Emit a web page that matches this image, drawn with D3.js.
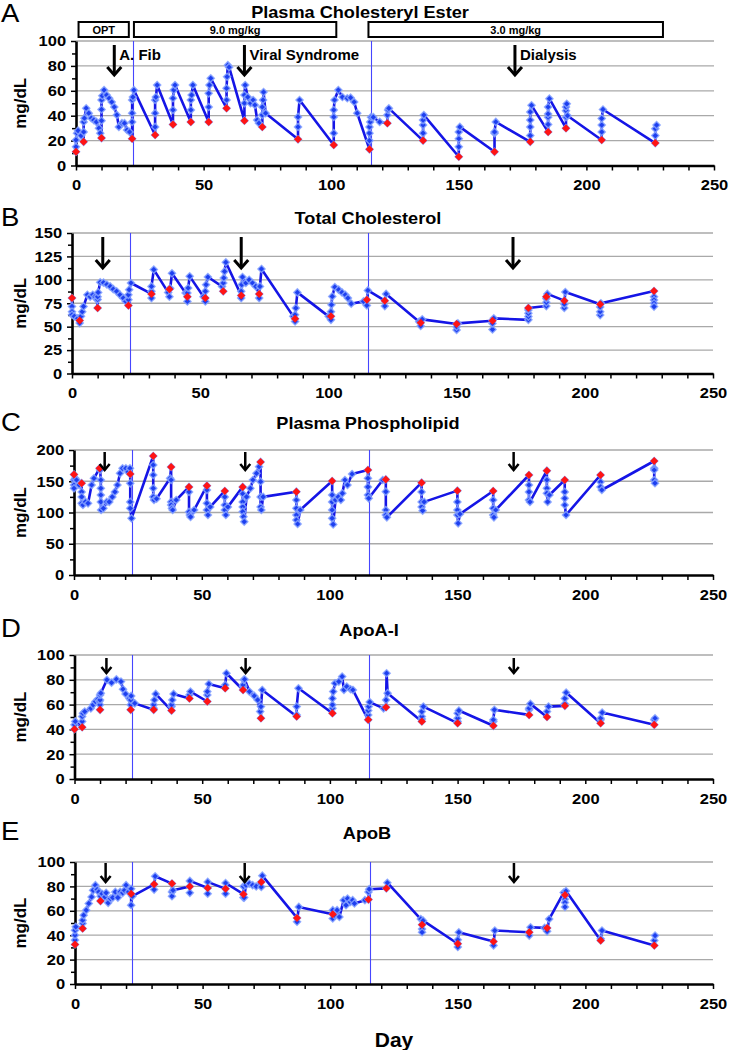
<!DOCTYPE html>
<html><head><meta charset="utf-8">
<script src="https://cdn.jsdelivr.net/npm/d3@7"></script>
<style>
body{margin:0;background:#fff}
svg{display:block}
text{font-family:"Liberation Sans",Arial,sans-serif}
</style>
</head><body>
<svg id="c" width="729" height="1050"></svg>
<script>
// ---------------- DATA ----------------
const infusionDays = [0,3,10,22,31,38,45,52,59,66,73,87,101,115,122,136,150,164,178,185,192,206,227];
const regimenChangeDays = [22.5,115.5];
const doseLabels = ["OPT","9.0 mg/kg","3.0 mg/kg"];
const doseStart = [1,22.7,114.6];
const doseEnd = [20.7,102,230];
const eventLabels = ["A. Fib","Viral Syndrome","Dialysis"];
const xTicks = [0,50,100,150,200,250];

const titles = ["Plasma Cholesteryl Ester","Total Cholesterol","Plasma Phospholipid","ApoA-I","ApoB"];
const letters = ["A","B","C","D","E"];
const yMaxes = [100,150,200,100,100];
const ySteps = [20,25,50,20,20];

const preA = [11,19,22,21.5,24.5,33,35,35,46,36,31,21,16.5,13,34,20,7,11,19,27,30,20.5,18];
const preB = [80.5,56.6,70,72.7,85,90,82,80.5,87.7,83.4,85,58.4,61,78.8,77.8,54.3,52.8,56.4,70,82,77.8,74,88];
const preC = [161,147,170.7,161.6,190.4,173,141,143,134.4,141,181,133.3,150.4,168,153,147.7,135,134.4,160,166.9,152,160,182.4];
const preD = [40.2,41.8,55.8,55.8,55.8,55.2,65,62.5,73.2,71.8,49,50.4,53,47.7,57.9,46.4,45,42.9,51.7,50,59,45,43.7];
const preE = [32.4,45.5,68,74,81.7,82.3,80,78.7,78,73.6,83.7,54.2,57.2,69.2,78.4,48.6,33,34.9,42.4,46,73,35.7,31.6];

const seriesA = [[0,11],[0,15],[0,20.5],[0.4,26],[0.8,28],[2,24],
[3,19],[3,27],[3,35],[3.3,38],[4,46],[5,42],[6,38],[7,36.5],[8,35],[9,30],[9.5,26],
[10,22],[10,36],[10,45],[10,52.6],[10.3,56],[11,60.6],[12,56.6],[13,54],[14,51],[15,47],[16,40.6],[16.8,31],[18,34],[19,34],[20,28.5],[21,27],
[22,21.5],[22,35],[22,42],[22,52.6],[22.3,55],[22.7,60.5],
[31,24.5],[31,31],[31,42],[31,52.6],[31.3,55],[31.8,64.6],
[38,33],[38,44.6],[38,54],[38.3,60.6],[38.8,64.6],
[45,35],[45,44.6],[45,52.6],[45.3,56.6],[45.8,64.6],
[52,35],[52,47],[52,58],[52.3,64.6],[52.8,70],
[59,46],[59,52.6],[59,62],[59.2,71.3],[59.5,80.6],[60,79],
[66,36],[66,50],[66,56.6],[66.3,64.6],[67.3,55],[68.4,50],[69.4,52.6],[70.1,48.6],[71,36.5],[71.7,34],
[73,31],[73,40.6],[73,47],[73.3,52.6],[73.5,59],[74.3,42],
[87,21],[87,31],[87,39],[87.6,52.6],
[101,16.5],[101,26],[101,39],[101,44.6],[101.3,52.6],[102.8,60.6],[104.4,55],[106.3,54],[107.6,54.5],[109,51],[110.2,42],
[115,13],[115,20],[115,26],[115,31],[115.3,35],[115.6,38.8],[116.5,38.8],[119,35],
[122,34],[122,40.5],[122.3,44.5],[122.6,45.9],
[136,20],[136,26],[136,32.5],[136,36.5],[136.3,40.5],
[150,7],[150,15],[150,21.5],[150,27],[150.4,31],
[164,11],[164,26],[164,27],[164.5,35],
[178,19],[178,24],[178,31],[178,36.5],[178,43],[178.5,48.3],
[185,27],[185,33],[185,38.8],[185,41.4],[185,47],[185.5,53.7],
[192,30],[192,38.8],[192,44],[192,47],[192.3,49.5],[192.6,40],
[206,20.5],[206,27],[206,32.5],[206,37.8],[206.5,45],
[227,18],[227,24],[227,29.6],[227.5,32.5]];

const seriesB = [[0,80.5],[0,71.6],[0,66],[0,62.7],[0.9,61],[2.2,58.8],
[3,56.6],[3,53.8],[3.5,61],[4,66],[4.5,71.6],[6,84],[7.1,82],[8.1,84],[9,82],[9.7,79],
[10,70],[10,79],[10,82],[10.2,86.6],[11,97.3],[12.3,97],[13.6,95],[14.9,93],[16.1,90],[17.4,87.7],[18.7,84],[20,80.5],[21,77],
[22,72.7],[22,78.8],[22,84],[22.3,89.5],[23,96.6],
[31,85],[31,80.5],[31,87.7],[31,93],[31.9,110.9],
[37.5,86.6],[38,90],[38,82],[38.3,91],[39,107],
[44.3,86],[45,82],[45,77],[45,86],[45.3,91.3],[45.9,103.7],
[51.3,82],[52,80.5],[52,77],[52,87.7],[52.3,94.8],[53,103],
[58.5,93],[59,87.7],[59,96.6],[59.2,102],[59.5,109],[60,118.7],
[66,83.4],[66,80.5],[66,87.7],[66.2,94.8],[66.5,103],[67.8,96.6],[69.1,100],[70.4,96.6],[71.7,93],
[73,85],[73,80.5],[73.3,93],[73.9,111.6],
[86.3,61],[87,58.4],[87,55.5],[87,62.7],[87.3,69.8],[87.9,86.6],
[100.1,61],[101,61],[101,57.3],[101,66],[101.2,73.4],[101.5,82.3],[102.5,92.3],[104,89.5],[105.3,86.6],[106.6,84],[107.6,80.5],[108.9,74.5],[113.7,77],
[115,78.8],[115,72.7],[115.4,88.7],
[122,77.8],[122,72],[122.5,85],
[135.4,55.3],[136,54.3],[136,50.8],[136.6,57.8],
[150,52.8],[150,46.5],[150,50],[150.5,53.5],
[164,56.4],[164,47],[164,53.5],[164.5,58.9],
[178,57.3],[178,60.8],[178,64.3],[178,67.8],[178,70],
[185,72],[185,76],[185,80],[185,82],[185.4,85],
[192,77.8],[192,70],[192,74],[192.4,87],
[206,74],[206,62.4],[206,66],[206,71],[206.3,74.9],
[227,88],[227,82],[227,78.5],[227,75],[227,71.4]];

const seriesC = [[0,161],[0,152],[0,144],[0,138.7],[0.5,154.7],[1,152],[2,144],
[3,147],[3,133],[3,125],[3,114.7],[3.5,112],[4.5,117],[5.5,114.7],[6.9,144],[7.8,154.7],
[10,170.7],[10.2,168],[10.5,152],[10.5,138.7],[10.5,128],[10.5,117],[10.6,104],[11.5,106.7],[12.8,117],[13.8,117],[15,125],[16,133],[17,144],[18,162.7],[19,170.7],[20.3,170.7],[21.2,165],[21.9,170.7],
[22,161.6],[22,146.7],[22,117],[22,106.7],[22.5,90.7],
[31,190.4],[31,176],[31,160],[31,138.7],[31,125],[31.3,120],[32.3,122],
[37.6,154.7],[38,173],[38,152],[38,117],[38,112],[38.3,106.7],[38.6,104],[40,120],
[45,141],[45,133],[45,101],[45.3,96],[45.6,93],[47,104],
[52,143],[52,136],[52,114.7],[52,104],[52.4,96],[53.3,109],
[59,134.4],[59,125],[59,112],[59,104],[59.4,96],[60.2,109],
[66,141],[66,130],[66,117],[66,109],[66,101.3],[66.3,93.3],[66.6,85.3],[67.5,125],[69,138.7],[70,152],[71.4,162.7],[72.4,173.3],
[73,181],[73,149.3],[73,125],[73,109],[73.3,104],[74,125],
[87,133.3],[87,120],[87,106.7],[87,96],[87,88],[87.5,81.6],[88.5,104],
[101,150.4],[101,128],[101,117],[101,104],[101,90.7],[101.4,81],[102.3,120],[103.4,125],[104.4,120],[105,130.7],[106,152],[107,144],[108.8,161.6],
[115,168],[115,154.7],[115,141],[115,128],[115.3,122.7],[120.8,152],
[122,153],[122,133.3],[122,104],[122,96],[122.4,92.3],
[136,147.7],[136,133],[136,117],[136,109],[136.4,103],[137,117],
[150,135],[150,117],[150,104],[150,96],[150.3,82.7],[151,97.6],
[164,134.4],[164,120],[164,106.7],[164,96],[164.3,92.3],[165,104],
[178,160],[178,144],[178,133],[178,120],[178.4,117],
[185,166.9],[185,152],[185,138.7],[185,130.7],[185.3,117],[186,128],
[192,152],[192,133],[192,122.7],[192,112],[192.5,96],
[206,160],[206,149],[206,141],[206.5,136],
[227,182.4],[227,170.7],[227,168],[227,152],[227.3,147]];

const seriesD = [[0,40.2],[0,43.7],[0.3,46.4],
[3,41.8],[3,46.4],[3,50.4],[3.3,53],[4,54.4],[6.4,57],[7.3,59.8],[8.2,62.5],[9.1,64.3],[9.7,62.5],
[10,55.8],[10,59.8],[10,63.8],[10,67.8],[10.3,69.2],[12.7,80],[14.5,77.7],[16.4,80.4],[18.2,78.6],[19,72.4],[20,68.6],[21.5,65],
[22,55.8],[22,59.8],[22,63.8],[22.2,67],[23.6,61],
[31,55.8],[31,57],[31,59.8],[31.3,63.8],[31.8,68.6],
[38,55.2],[38,58.4],[38,59.8],[38.3,63.8],[38.8,68.6],
[45,65],[45,67.8],[45.4,70.5],
[52,62.5],[52,67.8],[52,70.5],[52.6,76.7],
[59,73.2],[59,75.9],[59.5,85.3],
[66,71.8],[66,74.5],[66,75.9],[66.3,80],[66.6,80.4],[68.5,70.5],[70.4,67],[71.7,63.8],[72.7,54.4],
[73,49],[73,58.4],[73.5,71.8],
[87,50.4],[87,51.7],[87,58.4],[87.7,73.2],
[101,53],[101,57],[101,59.8],[101,65],[101.3,70.5],[102,77.2],[103.5,78.6],[104.8,82.6],[105.5,71.8],[106.6,74.5],[108.1,72.4],[109,71.8],
[115,47.7],[115,51.7],[115,55.2],[115.2,58.4],[115.6,62],[121,57],
[122,57.9],[122,63.8],[122.2,85.3],[122.6,69.2],
[136,46.4],[136,48.3],[136,50.4],[136,54.4],[136.6,58.4],
[150,45],[150,46.4],[150,49],[150,53],[150.5,55.2],
[164,42.9],[164,46.4],[164,47.7],[164.4,55.8],
[178,51.7],[178,55.8],[178,57],[178.5,60.6],
[185,50],[185,54.4],[185.6,58.4],
[192,59],[192,60.6],[192,65],[192.5,69.7],
[206,45],[206,47.7],[206,49],[206.6,53.6],
[227,43.7],[227,47.7],[227.3,49]];

const seriesE = [[0,32.4],[0,36],[0,40],[0,44],[0.3,46.9],
[3,45.5],[3,49.6],[3,52.3],[3.4,56.4],[4.4,60.5],[5.4,66],[6.5,71.4],[7.1,76.8],[8,81],[8.7,77.4],[9.3,75.5],
[10,68],[10,72],[10.6,74],[11.7,71.4],[12.2,74.7],[13,66.5],[13.9,70],[14.8,70.8],[15.8,75.5],[16.8,70.8],[17.7,75.5],[18.7,74.7],[19.4,76.8],[20,81],[21,75.5],
[22,74],[22,64.6],[22,78],[22.5,72],
[31,81.7],[31,77.4],[31.4,88.3],
[38,82.3],[38,75.5],[38,72],[38.4,76.8],
[45,80],[45,74.7],[45,84.5],
[52,78.7],[52,74],[52,83.7],
[59,78],[59,74],[59,82.8],
[66,73.6],[66,70.8],[66,80],[66.3,70.8],[67,81],[68.3,82.3],[69.6,81],[71,80],
[73,83.7],[73,79.6],[73.4,88.8],
[87,54.2],[87,51],[87.7,63.2],
[101,57.2],[101,53.7],[101,60.5],[101.7,56.4],[102.7,60.5],[103.6,55],[105.3,68.7],[106.2,64.6],[106.8,70],[107.9,67.3],[108.8,68.7],[109.5,66],[113.6,68.7],
[115,69.2],[115,75.5],[115.3,77.7],
[122,78.4],[122.4,83],
[135.5,53.2],[136,48.6],[136,45],[136,42.4],[136.4,51.9],
[150,33],[150,30.3],[150,36.2],[150.4,42.4],
[164,34.9],[164,31.6],[164.5,43.8],
[178,42.4],[178,39.7],[178.5,46.5],
[184,46],[185,46],[185,43.2],[185.8,53.2],
[191.5,74.9],[192,73],[192,69.5],[192,66.8],[192,63.2],[192.4,76.2],
[206,35.7],[206,37],[206.5,43.8],
[227,31.6],[227,35.7],[227.3,39.7]];

const allSeries = [seriesA,seriesB,seriesC,seriesD,seriesE];
const allPre = [preA,preB,preC,preD,preE];

// ---------------- LAYOUT ----------------
const layout = [
 {x0:76,  x1:714, yTop:41,  yBot:165.5, titleX:360, titleY:18,  letterY:22,  arrTop:45,  arrBot:75,  head:8, hw:7, aw:3,   arrowDays:[15,66,172]},
 {x0:72,  x1:713, yTop:233, yBot:373.5, titleX:368, titleY:224, letterY:226, arrTop:237, arrBot:268, head:8, hw:7, aw:3,   arrowDays:[12,66,172]},
 {x0:74,  x1:713, yTop:450, yBot:575,   titleX:368, titleY:429, letterY:431, arrTop:452, arrBot:470, head:6, hw:5, aw:2.5, arrowDays:[12,67,172]},
 {x0:74.5,x1:713, yTop:655, yBot:779,   titleX:369, titleY:636, letterY:637, arrTop:658, arrBot:673, head:6, hw:5, aw:2.5, arrowDays:[12.5,67,172]},
 {x0:75,  x1:713, yTop:862, yBot:984,   titleX:367, titleY:839, letterY:840, arrTop:863, arrBot:882, head:6, hw:5, aw:2.5, arrowDays:[12,66.5,172]}
];

const svg = d3.select("#c");
const SX = 1.1;
const blue = "#1515e6";

function stext(g, x, y, str, size, weight, anchor, sx){
  return g.append("text")
    .attr("transform", `translate(${x},${y}) scale(${sx},1)`)
    .attr("text-anchor", anchor)
    .attr("font-size", size)
    .attr("font-weight", weight)
    .attr("fill", "#000")
    .text(str);
}
const diamond = r => `M0,${-r}L${r},0L0,${r}L${-r},0Z`;

allSeries.forEach((series, i) => {
  const L = layout[i];
  const yMax = yMaxes[i], yStep = ySteps[i];
  const x = d3.scaleLinear().domain([0,250]).range([L.x0, L.x1]);
  const y = d3.scaleLinear().domain([0,yMax]).range([L.yBot, L.yTop]);
  const g = svg.append("g");

  // gridlines
  g.selectAll(null).data(d3.range(yStep, yMax + 0.001, yStep)).enter().append("line")
    .attr("x1", L.x0).attr("x2", L.x1)
    .attr("y1", d => y(d)).attr("y2", d => y(d))
    .attr("stroke", "#a9a9a9").attr("stroke-width", 1.3);

  // regimen change lines
  g.selectAll(null).data(regimenChangeDays).enter().append("line")
    .attr("x1", d => Math.round(x(d)) + 0.5).attr("x2", d => Math.round(x(d)) + 0.5)
    .attr("y1", L.yBot).attr("y2", L.yTop)
    .attr("stroke", "#4646ff").attr("stroke-width", 1.1);

  // minor ticks
  g.append("g").attr("transform", `translate(${L.x0},0)`)
    .call(d3.axisLeft(y).tickValues(d3.range(yStep/2, yMax, yStep)).tickSize(4).tickFormat(""))
    .call(a => a.select(".domain").remove())
    .selectAll("line").attr("stroke-width", 1.5);
  g.append("g").attr("transform", `translate(0,${L.yBot})`)
    .call(d3.axisBottom(x).tickValues(d3.range(10, 250, 10).filter(v => v % 50)).tickSize(5).tickFormat(""))
    .call(a => a.select(".domain").remove())
    .selectAll("line").attr("stroke-width", 1.5);

  // y axis
  const ya = g.append("g").attr("transform", `translate(${L.x0},0)`)
    .call(d3.axisLeft(y).tickValues(d3.range(0, yMax + 0.001, yStep)).tickSize(5).tickSizeOuter(0).tickPadding(4).tickFormat(d3.format("d")));
  ya.select(".domain").attr("stroke-width", 2.6);
  ya.selectAll(".tick line").attr("stroke-width", 1.5);
  ya.selectAll("text").attr("font-size", 15).attr("font-weight", "bold")
    .attr("font-family", '"Liberation Sans",Arial,sans-serif').attr("fill", "#000")
    .attr("transform", `scale(${SX},1)`);

  // x axis
  const xa = g.append("g").attr("transform", `translate(0,${L.yBot})`)
    .call(d3.axisBottom(x).tickValues(xTicks).tickSize(5).tickSizeOuter(0).tickPadding(9));
  xa.select(".domain").attr("stroke-width", 2.6);
  xa.selectAll(".tick line").attr("stroke-width", 1.5);
  xa.selectAll("text").attr("font-size", 15).attr("font-weight", "bold")
    .attr("font-family", '"Liberation Sans",Arial,sans-serif').attr("fill", "#000")
    .attr("transform", `scale(${SX},1)`);

  // series line
  g.append("path").datum(series)
    .attr("d", d3.line().x(d => x(d[0])).y(d => y(d[1])))
    .attr("fill", "none").attr("stroke", blue).attr("stroke-width", 2.6).attr("stroke-linejoin", "round");

  // blue markers
  g.selectAll(null).data(series).enter().append("path")
    .attr("transform", d => `translate(${x(d[0])},${y(d[1])})`)
    .attr("d", diamond(3.6))
    .attr("fill", "#1d3ff0").attr("stroke", "#86a2ff").attr("stroke-width", 1.4).attr("stroke-opacity", 0.85);

  // red pre-infusion markers
  g.selectAll(null).data(infusionDays.map((d, k) => [d, allPre[i][k]])).enter().append("path")
    .attr("transform", d => `translate(${x(d[0])},${y(d[1])})`)
    .attr("d", diamond(4))
    .attr("fill", "#ff1414");

  // arrows
  L.arrowDays.forEach(ad => {
    const ax = x(ad);
    g.append("line").attr("x1", ax).attr("x2", ax).attr("y1", L.arrTop).attr("y2", L.arrBot - 1)
      .attr("stroke", "#000").attr("stroke-width", L.aw);
    g.append("path")
      .attr("d", `M${ax - L.hw},${L.arrBot - L.head}L${ax},${L.arrBot}L${ax + L.hw},${L.arrBot - L.head}`)
      .attr("fill", "none").attr("stroke", "#000").attr("stroke-width", L.aw).attr("stroke-linejoin", "miter");
  });

  // titles & labels
  stext(g, L.titleX, L.titleY, titles[i], 16.5, "bold", "middle", SX);
  stext(g, 1, L.letterY, letters[i], 25, "normal", "start", 1.1);
  g.append("text")
    .attr("transform", `translate(${26},${(L.yTop + L.yBot) / 2}) rotate(-90)`)
    .attr("text-anchor", "middle").attr("font-size", 17).attr("font-weight", "bold")
    .text("mg/dL");

  if (i === 0) {
    // dose boxes
    doseLabels.forEach((lab, k) => {
      const bx0 = x(doseStart[k]), bx1 = x(doseEnd[k]);
      g.append("rect").attr("x", bx0).attr("y", 22).attr("width", bx1 - bx0).attr("height", 15)
        .attr("fill", "#fff").attr("stroke", "#000").attr("stroke-width", 2);
      stext(g, (bx0 + bx1) / 2, 33.5, lab, 10.5, "bold", "middle", 1.05);
    });
    // event labels
    eventLabels.forEach((lab, k) => {
      stext(g, x(L.arrowDays[k]) + 5, 60, lab, 15, "bold", "start", 1);
    });
  }
});

stext(svg, 394, 1047, "Day", 20, "bold", "middle", 1.05);
</script>
</body></html>
